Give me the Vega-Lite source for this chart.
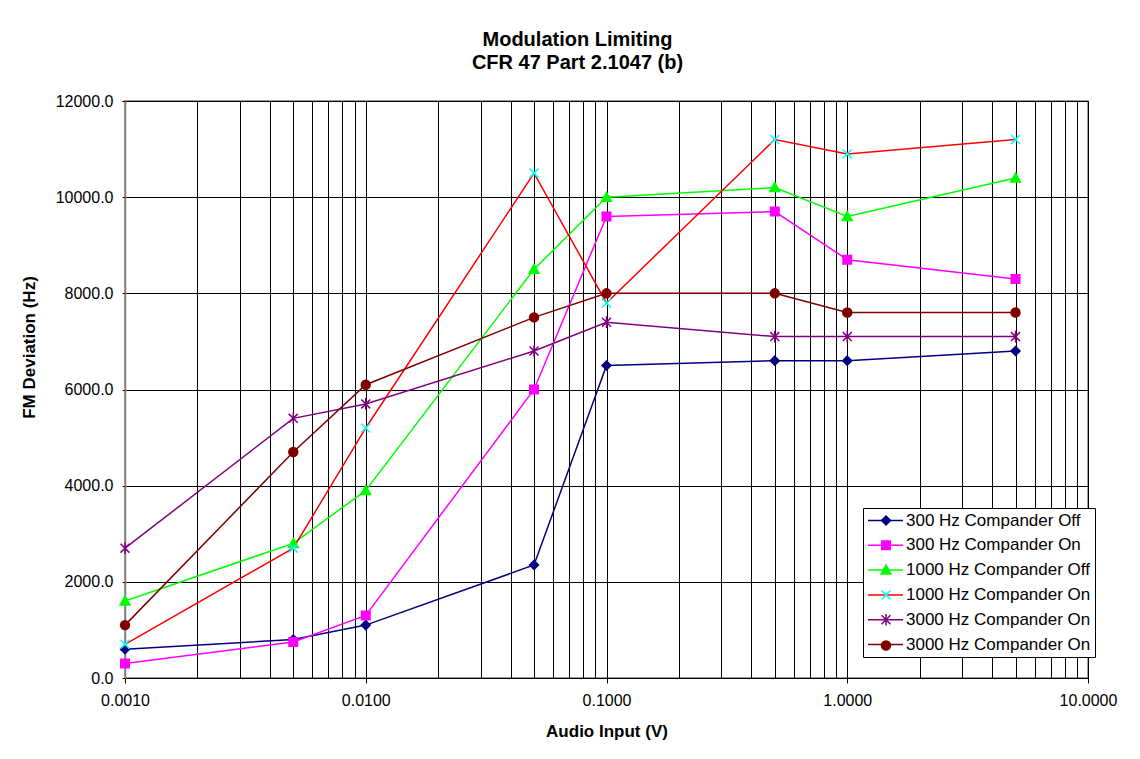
{
  "$schema": "https://vega.github.io/schema/vega-lite/v6.json",
  "width": 963,
  "height": 577,
  "autosize": {"type": "none"},
  "padding": {"left": 125, "top": 101, "right": 52, "bottom": 81},
  "background": "white",
  "title": {
    "text": ["Modulation Limiting", "CFR 47 Part 2.1047 (b)"],
    "font": "Liberation Sans",
    "fontSize": 20,
    "fontWeight": "bold",
    "lineHeight": 23,
    "color": "#000",
    "anchor": "middle",
    "dx": -29,
    "offset": 20
  },
  "data": {
    "values": [
      {"series": "s1", "marker": "m1", "input": 0.001, "deviation": 600},
      {"series": "s1", "marker": "m1", "input": 0.005, "deviation": 800},
      {"series": "s1", "marker": "m1", "input": 0.01, "deviation": 1100},
      {"series": "s1", "marker": "m1", "input": 0.05, "deviation": 2350},
      {"series": "s1", "marker": "m1", "input": 0.1, "deviation": 6500},
      {"series": "s1", "marker": "m1", "input": 0.5, "deviation": 6600},
      {"series": "s1", "marker": "m1", "input": 1, "deviation": 6600},
      {"series": "s1", "marker": "m1", "input": 5, "deviation": 6800},
      {"series": "s2", "marker": "m2", "input": 0.001, "deviation": 300},
      {"series": "s2", "marker": "m2", "input": 0.005, "deviation": 750},
      {"series": "s2", "marker": "m2", "input": 0.01, "deviation": 1300},
      {"series": "s2", "marker": "m2", "input": 0.05, "deviation": 6000},
      {"series": "s2", "marker": "m2", "input": 0.1, "deviation": 9600},
      {"series": "s2", "marker": "m2", "input": 0.5, "deviation": 9700},
      {"series": "s2", "marker": "m2", "input": 1, "deviation": 8700},
      {"series": "s2", "marker": "m2", "input": 5, "deviation": 8300},
      {"series": "s3", "marker": "m3", "input": 0.001, "deviation": 1600},
      {"series": "s3", "marker": "m3", "input": 0.005, "deviation": 2800},
      {"series": "s3", "marker": "m3", "input": 0.01, "deviation": 3900},
      {"series": "s3", "marker": "m3", "input": 0.05, "deviation": 8500},
      {"series": "s3", "marker": "m3", "input": 0.1, "deviation": 10000},
      {"series": "s3", "marker": "m3", "input": 0.5, "deviation": 10200},
      {"series": "s3", "marker": "m3", "input": 1, "deviation": 9600},
      {"series": "s3", "marker": "m3", "input": 5, "deviation": 10400},
      {"series": "s4", "marker": "m4", "input": 0.001, "deviation": 700},
      {"series": "s4", "marker": "m4", "input": 0.005, "deviation": 2700},
      {"series": "s4", "marker": "m4", "input": 0.01, "deviation": 5200},
      {"series": "s4", "marker": "m4", "input": 0.05, "deviation": 10500},
      {"series": "s4", "marker": "m4", "input": 0.1, "deviation": 7800},
      {"series": "s4", "marker": "m4", "input": 0.5, "deviation": 11200},
      {"series": "s4", "marker": "m4", "input": 1, "deviation": 10900},
      {"series": "s4", "marker": "m4", "input": 5, "deviation": 11200},
      {"series": "s5", "marker": "m5", "input": 0.001, "deviation": 2700},
      {"series": "s5", "marker": "m5", "input": 0.005, "deviation": 5400},
      {"series": "s5", "marker": "m5", "input": 0.01, "deviation": 5700},
      {"series": "s5", "marker": "m5", "input": 0.05, "deviation": 6800},
      {"series": "s5", "marker": "m5", "input": 0.1, "deviation": 7400},
      {"series": "s5", "marker": "m5", "input": 0.5, "deviation": 7100},
      {"series": "s5", "marker": "m5", "input": 1, "deviation": 7100},
      {"series": "s5", "marker": "m5", "input": 5, "deviation": 7100},
      {"series": "s6", "marker": "m6", "input": 0.001, "deviation": 1100},
      {"series": "s6", "marker": "m6", "input": 0.005, "deviation": 4700},
      {"series": "s6", "marker": "m6", "input": 0.01, "deviation": 6100},
      {"series": "s6", "marker": "m6", "input": 0.05, "deviation": 7500},
      {"series": "s6", "marker": "m6", "input": 0.1, "deviation": 8000},
      {"series": "s6", "marker": "m6", "input": 0.5, "deviation": 8000},
      {"series": "s6", "marker": "m6", "input": 1, "deviation": 7600},
      {"series": "s6", "marker": "m6", "input": 5, "deviation": 7600}
    ]
  },
  "encoding": {
    "x": {
      "field": "input",
      "type": "quantitative",
      "scale": {"type": "log", "domain": [0.001, 10], "nice": false},
      "axis": {
        "title": "Audio Input (V)",
        "values": [0.001, 0.002, 0.003, 0.004, 0.005, 0.006, 0.007, 0.008, 0.009, 0.01, 0.02, 0.03, 0.04, 0.05, 0.06, 0.07, 0.08, 0.09, 0.1, 0.2, 0.3, 0.4, 0.5, 0.6, 0.7, 0.8, 0.9, 1, 2, 3, 4, 5, 6, 7, 8, 9, 10],
        "labelExpr": "indexof([0.001, 0.01, 0.1, 1, 10], datum.value) >= 0 ? format(datum.value, '.4f') : ''",
        "labelOverlap": false,
        "labelFlush": false,
        "labelFontSize": 16,
        "labelPadding": 9,
        "labelColor": "#000",
        "tickColor": {"condition": {"test": "indexof([0.001, 0.01, 0.1, 1, 10], datum.value) >= 0", "value": "#000"}, "value": "transparent"},
        "tickSize": 5,
        "domainColor": "#000",
        "grid": true,
        "gridColor": "#000",
        "gridWidth": 1,
        "gridOpacity": 1,
        "titleFontSize": 17,
        "titleFontWeight": "bold",
        "titleColor": "#000",
        "titlePadding": 15
      }
    },
    "y": {
      "field": "deviation",
      "type": "quantitative",
      "scale": {"domain": [0, 12000], "nice": false},
      "axis": {
        "title": "FM Deviation (Hz)",
        "values": [0, 2000, 4000, 6000, 8000, 10000, 12000],
        "format": ".1f",
        "labelFontSize": 16,
        "labelPadding": 9,
        "labelColor": "#000",
        "tickSize": 3,
        "tickColor": "#000",
        "domainColor": "#808080",
        "domainWidth": 1.5,
        "grid": true,
        "gridColor": "#000",
        "gridWidth": 1,
        "gridOpacity": 1,
        "titleFontSize": 17,
        "titleFontWeight": "bold",
        "titleColor": "#000",
        "titleX": -87,
        "titleY": 246
      }
    }
  },
  "layer": [
    {
      "mark": {"type": "line", "strokeWidth": 1.5},
      "encoding": {
        "color": {
          "field": "series",
          "type": "nominal",
          "scale": {"domain": ["s1", "s2", "s3", "s4", "s5", "s6"], "range": ["#000080", "#FF00FF", "#00FF00", "#FF0000", "#800080", "#800000"]},
          "legend": {
            "title": null,
            "orient": "none",
            "legendX": 738,
            "legendY": 407,
            "zindex": 0,
            "padding": 4,
            "fillColor": "white",
            "strokeColor": "#000",
            "labelFontSize": 17,
            "labelColor": "#000",
            "labelLimit": 400,
            "symbolType": "M-3.5,0L3.5,0",
            "symbolSize": 100,
            "symbolOffset": 10,
            "labelOffset": 12,
            "rowPadding": 6.8,
            "symbolStrokeWidth": 1.5,
            "labelExpr": "datum.value == 's1' ? '300 Hz Compander Off' : datum.value == 's2' ? '300 Hz Compander On' : datum.value == 's3' ? '1000 Hz Compander Off' : datum.value == 's4' ? '1000 Hz Compander On' : '3000 Hz Compander On'"
          }
        }
      }
    },
    {
      "mark": {"type": "point", "size": 80, "strokeWidth": 1.5, "opacity": 1},
      "encoding": {
        "shape": {
          "field": "marker",
          "type": "nominal",
          "scale": {"domain": ["m1", "m2", "m3", "m4", "m5", "m6"], "range": ["M0,-1L1,0L0,1L-1,0Z", "M-0.95,-0.95L0.95,-0.95L0.95,0.95L-0.95,0.95Z", "M0,-1.1L1.1,0.9L-1.1,0.9Z", "M-1,-1L1,1M-1,1L1,-1", "M-1,-1L1,1M-1,1L1,-1M0,-1.3L0,1.3", "circle"]},
          "legend": {
            "title": null,
            "orient": "none",
            "legendX": 738,
            "legendY": 407,
            "zindex": 1,
            "padding": 4,
            "labelFontSize": 17,
            "labelColor": "transparent",
            "labelLimit": 400,
            "symbolSize": 80,
            "symbolOffset": 10.5,
            "labelOffset": 12,
            "rowPadding": 6.8,
            "symbolStrokeWidth": 1.5,
            "labelExpr": "datum.value == 'm1' ? '300 Hz Compander Off' : datum.value == 'm2' ? '300 Hz Compander On' : datum.value == 'm3' ? '1000 Hz Compander Off' : datum.value == 'm4' ? '1000 Hz Compander On' : '3000 Hz Compander On'"
          }
        },
        "fill": {
          "field": "marker",
          "type": "nominal",
          "scale": {"domain": ["m1", "m2", "m3", "m4", "m5", "m6"], "range": ["#000080", "#FF00FF", "#00FF00", "transparent", "transparent", "#800000"]},
          "legend": null
        },
        "stroke": {
          "field": "marker",
          "type": "nominal",
          "scale": {"domain": ["m1", "m2", "m3", "m4", "m5", "m6"], "range": ["#000080", "#FF00FF", "#00FF00", "#00FFFF", "#800080", "#800000"]},
          "legend": null
        }
      }
    }
  ],
  "config": {
    "font": "Liberation Sans",
    "view": {"stroke": "#808080", "strokeWidth": 1.5},
    "axis": {"labelFont": "Liberation Sans", "titleFont": "Liberation Sans"},
    "legend": {"labelFont": "Liberation Sans"}
  }
}
